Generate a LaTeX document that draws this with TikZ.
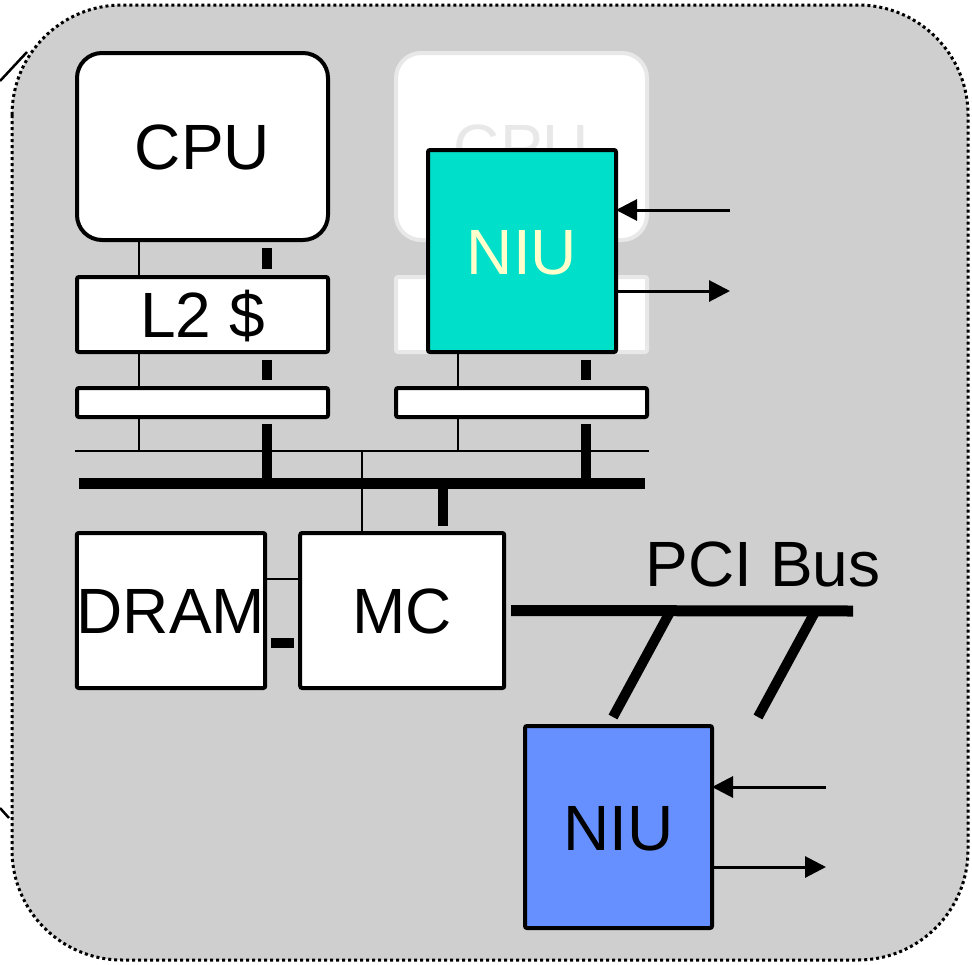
\documentclass[tikz,border=0pt]{standalone}
\usepackage{fontspec}
\setmainfont{Liberation Sans}
\usepackage{tikz}
\usetikzlibrary{positioning, arrows.meta}

\definecolor{boardgray}{RGB}{207,207,207}
\definecolor{ghostline}{RGB}{232,232,232}
\definecolor{niuteal}{RGB}{0,223,201}
\definecolor{niuyellow}{RGB}{255,255,204}
\definecolor{niublue}{RGB}{102,144,255}

\tikzset{
  box/.style={draw, line width=4pt, fill=white, rounded corners=2pt, inner sep=0pt, outer sep=0pt,
    text height=46pt, text depth=0pt, font=\fontsize{64}{72}\selectfont},
  roundbox/.style={box, rounded corners=25pt},
  ghost/.style={draw=ghostline, text=ghostline},
  bridge/.style={box, text height=0pt, minimum width=251pt, minimum height=29pt},
  thinwire/.style={line width=2pt},
  thickwire/.style={line width=10pt},
  buswire/.style={line width=11pt},
  sigarrow/.style={line width=3pt, -{Triangle[length=21pt,width=21pt]}}
}

\begin{document}
\begin{tikzpicture}[x=1pt, y=-1pt]
        \useasboundingbox (0,0) rectangle (972,964);

        % the board
        \draw[fill=boardgray, rounded corners=110pt, line width=3pt, dash pattern=on 3pt off 3pt] (12,5) rectangle (968,960);
        \draw[line width=2.5pt] (0,81) -- (27,52);
        \draw[line width=2.5pt] (0,808) -- (9,818);

        % processor column and the column taken over by the NIU
        \node[roundbox, minimum width=251pt, minimum height=187pt] (cpu) at (202.5,146.5) {CPU};
        \node[box, minimum width=251pt, minimum height=75pt, below=37pt of cpu] (ltwo) {L2 \$};
        \node[bridge, below=36pt of ltwo] (bridgeL) {};

        \node[roundbox, ghost, minimum width=251pt, minimum height=187pt, right=68pt of cpu] (ghostcpu) {CPU};
        \node[box, ghost, minimum width=251pt, minimum height=75pt, right=68pt of ltwo] (ghostltwo) {};
        \node[bridge, right=68pt of bridgeL] (bridgeR) {};
        \node[box, fill=niuteal, text=niuyellow, minimum width=188pt, minimum height=202pt] (niu) at (522,251) {NIU};

        % memory
        \node[box, minimum width=188pt, minimum height=155pt] (dram) at (171,610.5) {DRAM};
        \node[box, minimum width=204pt, minimum height=155pt, right=35pt of dram] (mc) {MC};

        % PCI side
        \node[box, fill=niublue, minimum width=187pt, minimum height=202pt] (niupci) at (618.5,827) {NIU};
        \node[font=\fontsize{64}{72}\selectfont, inner sep=0pt, text height=46pt, text depth=0pt] (pcilabel) at (763,563) {PCI Bus};

        % buses
        \coordinate (tbusW) at (75,451);
        \coordinate (tbusE) at (649,451);
        \coordinate (busW) at (79,483);
        \coordinate (busE) at (645,483);
        \draw[thinwire] (tbusW) -- (tbusE);
        \draw[buswire] (busW) -- (busE);

        % links down each column
        \foreach \up/\down in {cpu/ltwo, ltwo/bridgeL, ghostltwo/bridgeR}
        {
        \draw[thinwire] ([xshift=62pt]\up.south west) -- ([xshift=62pt]\down.north west);
        \draw[thickwire, shorten <=8pt, shorten >=8pt] ([xshift=190pt]\up.south west) -- ([xshift=190pt]\down.north west);
        }
        \foreach \br in {bridgeL, bridgeR}
        {
        \draw[thinwire] ([xshift=62pt]\br.south west) -- ([xshift=62pt]\br.south west |- tbusW);
        \draw[thickwire, shorten <=7pt] ([xshift=190pt]\br.south west) -- ([xshift=190pt]\br.south west |- busW);
        }

        % memory controller on both buses, and to DRAM
        \draw[thinwire] ([xshift=62pt]mc.north west |- tbusW) -- ([xshift=62pt]mc.north west);
        \draw[thickwire, shorten >=7pt] ([xshift=143pt]mc.north west |- busW) -- ([xshift=143pt]mc.north west);
        \draw[thinwire] ([yshift=-46pt]dram.north east) -- ([yshift=-46pt]mc.north west);
        \draw[thickwire, shorten <=6pt, shorten >=6pt] ([yshift=-110pt]dram.north east) -- ([yshift=-110pt]mc.north west);

        % PCI bus and its slots
        \coordinate (pciE) at (853,611);
        \coordinate (slotA) at (670,612);
        \coordinate (slotB) at (815,612);
        \coordinate (legB) at (758,717);
        \draw[buswire] ([xshift=7pt]mc.east) -- (pciE);
        \draw[thickwire] (slotA) -- ([xshift=88pt, yshift=9pt]niupci.north west);
        \draw[thickwire] (slotB) -- (legB);

        % network in and out
        \coordinate (niuin) at (730,210);
        \coordinate (niuout) at (730,291);
        \coordinate (pciin) at (826,787);
        \coordinate (pciout) at (826,867);
        \draw[sigarrow] (niuin) -- (niuin -| niu.east);
        \draw[sigarrow] (niuout -| niu.east) -- (niuout);
        \draw[sigarrow] (pciin) -- (pciin -| niupci.east);
        \draw[sigarrow] (pciout -| niupci.east) -- (pciout);
    \end{tikzpicture}
\end{document}
